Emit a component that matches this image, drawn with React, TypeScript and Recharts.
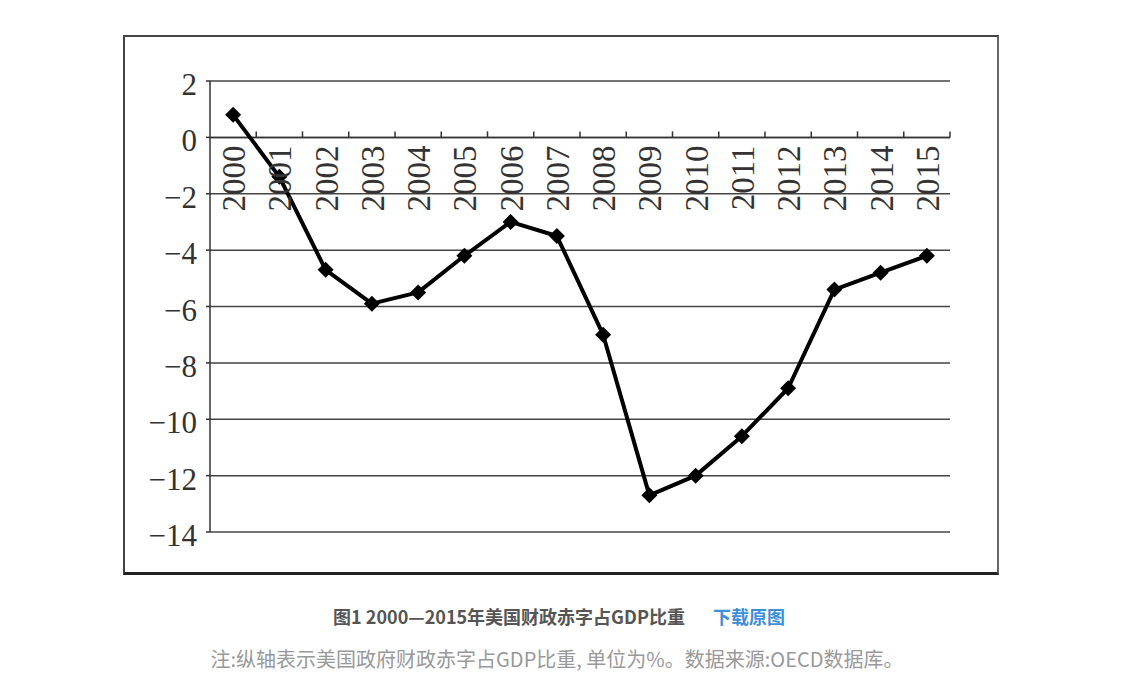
import { LineChart, Line, XAxis, YAxis, CartesianGrid, ReferenceLine } from 'recharts';

const years = ['2000', '2001', '2002', '2003', '2004', '2005', '2006', '2007', '2008', '2009', '2010', '2011', '2012', '2013', '2014', '2015'];
const deficit = [0.8, -1.4, -4.7, -5.9, -5.5, -4.2, -3.0, -3.5, -7.0, -12.7, -12.0, -10.6, -8.9, -5.4, -4.8, -4.2];
const yTicks = [-14, -12, -10, -8, -6, -4, -2, 0, 2];

const data = years.map((year, i) => ({ year, value: deficit[i] }));

const CHART_W = 872;
const CHART_H = 535;
const Y_AXIS_W = 85;
const X_AXIS_H = 40;
const margin = { top: 44, right: 47, left: 0, bottom: 0 };
const Y_MIN = -14;
const Y_MAX = 2;
const plotH = CHART_H - margin.top - margin.bottom - X_AXIS_H;
// pixel row of value 0, where the category axis sits
const zeroY = margin.top + (plotH * (Y_MAX - 0)) / (Y_MAX - Y_MIN);
const bandW = (CHART_W - margin.right - Y_AXIS_W) / years.length;

const serif = '"Liberation Serif", "DejaVu Serif", serif';

function YearTick(props: any) {
    const { x, payload } = props;
    return (
        <g>
            <line x1={x + bandW / 2} x2={x + bandW / 2} y1={zeroY} y2={zeroY - 6} stroke="#333" strokeWidth={1.5} />
            <text
                x={x + 1}
                y={zeroY + 8}
                transform={`rotate(-90, ${x + 1}, ${zeroY + 8})`}
                textAnchor="end"
                dominantBaseline="central"
                fontFamily={serif}
                fontSize={33}
                fill="#333"
            >
                {payload.value}
            </text>
        </g>
    );
}

function Diamond(props: any) {
    const { cx, cy } = props;
    if (cx == null || cy == null) return null;
    const r = 8;
    return <path d={`M${cx},${cy - r}L${cx + r},${cy}L${cx},${cy + r}L${cx - r},${cy}Z`} fill="#000" />;
}

export default function App() {
    return (
        <div style={{ position: 'absolute', left: 0, top: 0, width: 1122, height: 694, background: '#fff' }}>
            <div
                style={{
                    position: 'absolute',
                    left: 123,
                    top: 35,
                    width: 872,
                    height: 535,
                    borderLeft: '2px solid #444',
                    borderTop: '2px solid #444',
                    borderRight: '2px solid #666',
                    borderBottom: '3px solid #222',
                }}
            >
                <LineChart width={CHART_W} height={CHART_H} data={data} margin={margin}>
                    <CartesianGrid vertical={false} stroke="#444" strokeWidth={1.5} />
                    <XAxis
                        dataKey="year"
                        axisLine={false}
                        tickLine={false}
                        height={X_AXIS_H}
                        interval={0}
                        padding={{ left: bandW / 2, right: bandW / 2 }}
                        tick={<YearTick />}
                    />
                    <YAxis
                        width={Y_AXIS_W}
                        domain={[Y_MIN, Y_MAX]}
                        ticks={yTicks}
                        interval={0}
                        stroke="#333"
                        strokeWidth={1.5}
                        tickSize={4}
                        tickMargin={9}
                        tickFormatter={(v: number) => String(v).replace('-', '−')}
                        tick={{ fontFamily: serif, fontSize: 31, fill: '#333', dy: 3 }}
                    />
                    <ReferenceLine y={0} stroke="#333" strokeWidth={1.5} />
                    <Line
                        type="linear"
                        dataKey="value"
                        stroke="#000"
                        strokeWidth={4}
                        strokeLinejoin="round"
                        dot={<Diamond />}
                        activeDot={false}
                        isAnimationActive={false}
                    />
                </LineChart>
            </div>
            <div
                style={{
                    position: 'absolute',
                    top: 603,
                    left: 0,
                    width: 1122,
                    textAlign: 'center',
                    fontFamily: '"Noto Sans CJK SC", sans-serif',
                    fontSize: 18,
                    lineHeight: '26px',
                }}
            >
                <span style={{ color: '#555', fontWeight: 'bold', marginLeft: -4 }}>图1 2000—2015年美国财政赤字占GDP比重</span>
                <span style={{ color: '#3d8fd8', fontWeight: 'bold', marginLeft: 28 }}>下载原图</span>
            </div>
            <div
                style={{
                    position: 'absolute',
                    top: 645,
                    left: 0,
                    width: 1122,
                    textAlign: 'center',
                    fontFamily: '"Noto Sans CJK SC", sans-serif',
                    fontSize: 20,
                    lineHeight: '28px',
                    color: '#999',
                }}
            >
                <span style={{ marginLeft: -8 }}>注:纵轴表示美国政府财政赤字占GDP比重, 单位为%。数据来源:OECD数据库。</span>
            </div>
        </div>
    );
}
